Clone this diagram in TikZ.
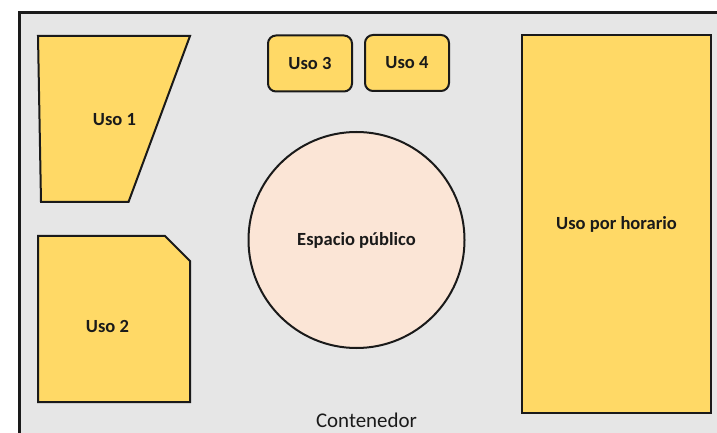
\documentclass[tikz,border=0pt]{standalone}
\usepackage{fontspec}
\setmainfont{Carlito}
\definecolor{usoyellow}{HTML}{FFD966}
\definecolor{pubpink}{HTML}{FBE5D6}
\definecolor{contgray}{HTML}{E6E6E6}
\definecolor{inkdark}{HTML}{1A1A1A}
\tikzset{
  usofill/.style={fill=usoyellow, draw=inkdark, line width=2bp, line join=miter},
  usofont/.style={font=\bfseries\fontsize{18.6}{21}\selectfont, text=inkdark},
  usolabel/.style={usofont, inner sep=0pt},
  usobox/.style={usofill, usofont, rounded corners=8bp, minimum width=84bp, minimum height=56bp, inner sep=0pt},
}
\begin{document}
\begin{tikzpicture}[x=1bp, y=-1bp]
  \useasboundingbox (0,0) rectangle (717,433);
  \clip (0,0) rectangle (717,433);
  \fill[white] (0,0) rectangle (717,433);
  % container
  \draw[fill=contgray, draw=inkdark, line width=3bp] (19.5,12.5) rectangle (740,460);
  \node[font=\fontsize{21}{24}\selectfont, text=inkdark, inner sep=0pt] (cont) at (366.5,420) {Contenedor};
  % Uso 1 trapezoid
  \draw[usofill] (38,36) -- (190,36) -- (128.5,202) -- (41,202) -- cycle;
  \node[usolabel] (uso1) at (114.5,120) {Uso 1};
  % Uso 2 chamfered
  \draw[usofill] (38,236) -- (165,236) -- (190,261) -- (190,402) -- (38,402) -- cycle;
  \node[usolabel] (uso2) at (107.5,326) {Uso 2};
  % Uso 3 and 4
  \node[usobox] (uso3) at (310,63.5) {Uso 3};
  \node[usobox] (uso4) at (407,63) {Uso 4};
  % Uso por horario
  \node[usofill, usofont, minimum width=189bp, minimum height=378bp, inner sep=0pt] (horario) at (616.5,224) {Uso por horario};
  % Espacio publico
  \node[circle, fill=pubpink, draw=inkdark, line width=2bp, minimum size=216bp, inner sep=0pt, usofont] (publico) at (356.5,240) {Espacio público};
\end{tikzpicture}
\end{document}
